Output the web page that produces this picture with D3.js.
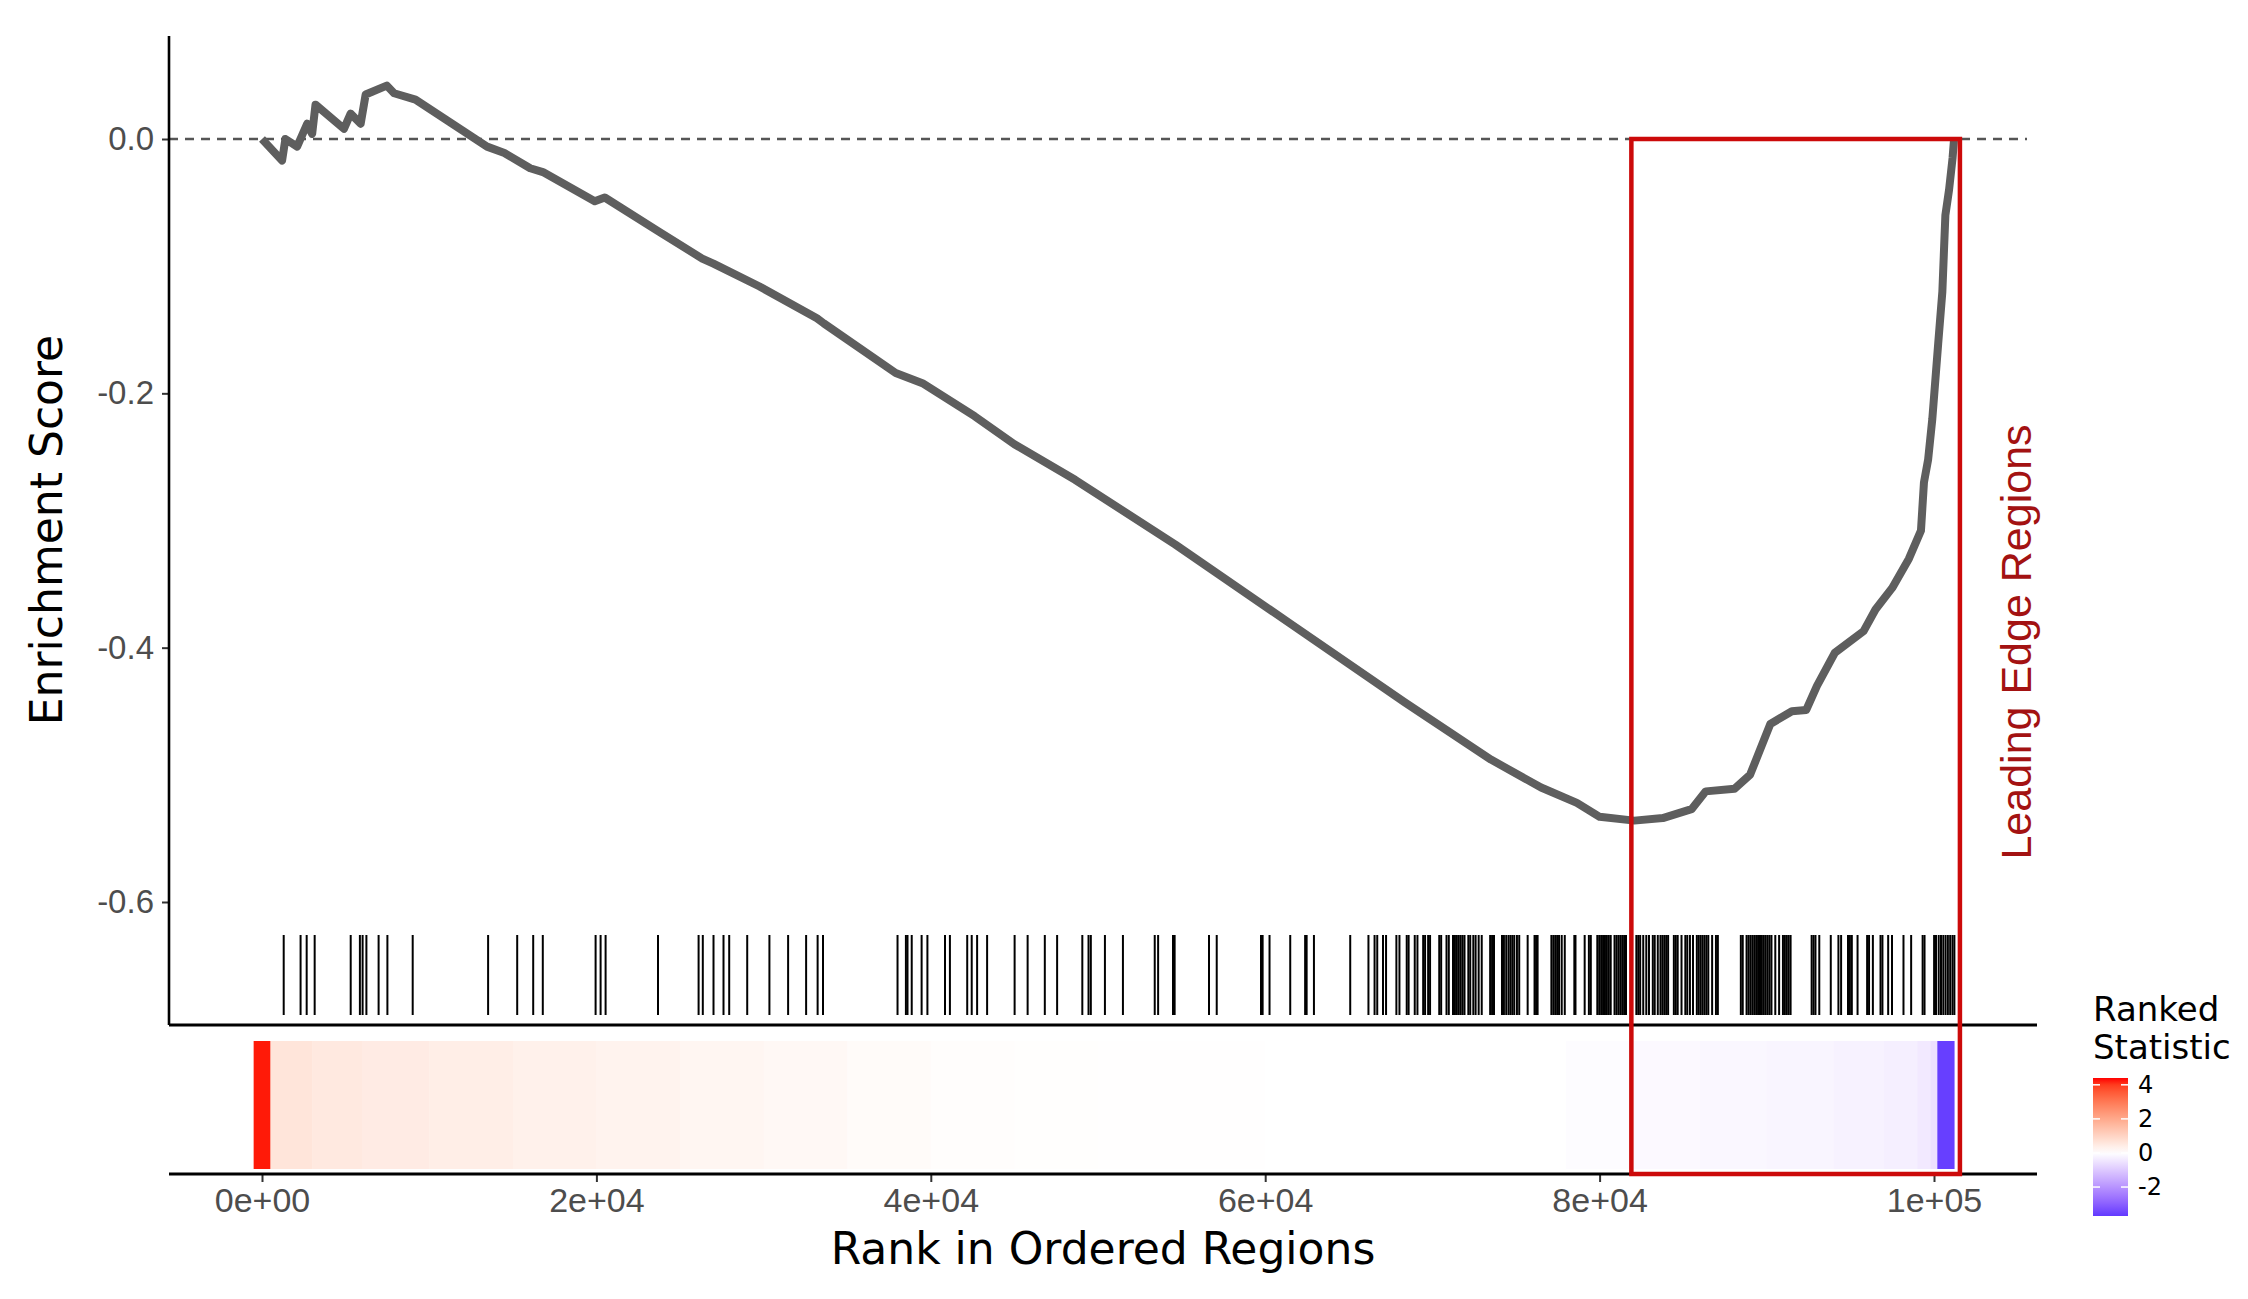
<!DOCTYPE html>
<html lang="en">
<head>
<meta charset="UTF-8">
<script src="https://d3js.org/d3.v7.min.js"></script>
<style>
  body { margin: 0; background: #fff; font-family: "DejaVu Sans", sans-serif; }
  .tick text { fill: #4d4d4d; }
</style>
</head>
<body>
<script>
// running enrichment score (rank, ES)
const esRank = [0, 1200, 1400, 2100, 2700, 3000, 3200, 4900, 5300, 5900, 6200, 7460, 7900, 9180, 13460, 14500, 16040, 16800, 19900, 20500, 23760, 26330, 27000, 29760, 33190, 33600, 37900, 39500, 42620, 45000, 48630, 54630, 61490, 68350, 73500, 76500, 78640, 80000, 82070, 83780, 85500, 86350, 88070, 89000, 90210, 91500, 92360, 93000, 94070, 95790, 96500, 97500, 98500, 99220, 99400, 99650, 99900, 100250, 100500, 100680, 100900, 101110, 101200];
const esVal = [0, -0.017, 0, -0.006, 0.012, 0.004, 0.027, 0.008, 0.02, 0.012, 0.035, 0.042, 0.036, 0.031, -0.006, -0.011, -0.023, -0.026, -0.049, -0.046, -0.073, -0.094, -0.098, -0.116, -0.141, -0.145, -0.184, -0.192, -0.218, -0.24, -0.268, -0.319, -0.381, -0.443, -0.488, -0.51, -0.522, -0.533, -0.536, -0.534, -0.527, -0.513, -0.511, -0.5, -0.46, -0.45, -0.449, -0.43, -0.404, -0.387, -0.37, -0.353, -0.33, -0.308, -0.27, -0.252, -0.22, -0.161, -0.12, -0.06, -0.04, -0.015, 0];

// hit positions (rank)
const hits = [1298, 2307, 2672, 3150, 5305, 5855, 6017, 6244, 6974, 7500, 9013, 13523, 15263, 16220, 16794, 19952, 20251, 20550, 23684, 26112, 26364, 27004, 27602, 27943, 29020, 30348, 31466, 32543, 33231, 33554,
  38010, 38511, 38607, 38859, 39451, 39797, 40850, 41143, 42178, 42447, 42770, 43368, 45013, 45791, 46819, 47555, 49062, 49433, 49571, 50414, 51491, 53393, 53596, 54487, 54583, 56640, 57101, 59750, 59846, 60259, 61497, 62388, 62478, 62915, 65085,
  66175, 66541, 66701, 67044, 67228, 67846, 68029, 68464, 68578, 68944, 69105, 69448, 69562, 69745, 69860, 70409, 70524, 70844, 70981, 71233, 71348, 71462, 71577, 71691, 71806, 71920, 72149, 72263, 72447, 72584, 72767, 72950, 73454, 73568, 73683,
  74163, 74278, 74415, 74552, 74667, 74781, 74896, 75056, 75193, 75697, 76109, 76200, 76292, 77116, 77231, 77345, 77460, 77574, 77734, 77917, 78489, 78558, 79107, 79359, 79474, 79863, 79977, 80092, 80206, 80321, 80435, 80550, 80664,
  80893, 81007, 81122, 81236, 81351, 81465, 81580, 82198, 82312, 82427, 82610, 82793, 82953, 83182, 83296, 83480, 83640, 83754, 83869, 83983, 84098, 84441, 84556, 84670, 84899, 85128, 85243, 85403, 85586, 85815, 85929, 86044, 86158,
  86272, 86387, 86501, 86730, 86959, 87073, 88447, 88561, 88790, 88905, 89019, 89134, 89248, 89363, 89477, 89592, 89706, 89821, 89935, 90050, 90164, 90279, 90508, 90737, 90966, 91080, 91195, 91308, 91423, 92682, 92796, 92911, 93139,
  93826, 94284, 94444, 94856, 94970, 95085, 95428, 96000, 96115, 96344, 96801, 96916, 97259, 97488, 98175, 98633, 99320, 99434, 100006, 100121, 100281, 100418, 100556, 100693, 100830, 100967, 101105, 101219];

// ranked statistic bins (start rank of each bin, value); last rank closes the final bin
const statRank = [-500, 500, 3000, 6000, 10000, 15000, 20000, 25000, 30000, 35000, 40000, 45000, 50000, 60000, 70000, 78000, 82000, 86000, 90000, 94000, 97000, 99000, 99800, 100200, 101200];
const statVal = [4.3, 0.62, 0.52, 0.46, 0.4, 0.34, 0.28, 0.22, 0.16, 0.1, 0.05, 0.03, 0.015, 0.005, 0, -0.05, -0.1, -0.14, -0.18, -0.24, -0.3, -0.4, -0.55, -3.6];

const xTicks = [0, 20000, 40000, 60000, 80000, 100000];
const xTickLabels = ["0e+00", "2e+04", "4e+04", "6e+04", "8e+04", "1e+05"];
const yTicks = [0, -0.2, -0.4, -0.6];
const legendTicks = [4, 2, 0, -2];
const leadingEdge = [81900, 101550];

const W = 2248, H = 1299;
const svg = d3.select('body').append('svg').attr('width', W).attr('height', H);

const x = d3.scaleLinear().domain([0, 100000]).range([262, 1934]);
const y = d3.scaleLinear().domain([0, -0.6]).range([139, 902]);
const left = 169, right = 2037, topY = 36, panelBottom = 1025, heatTop = 1041, heatBottom = 1169, axisY = 1174;

const maxAbs = 4.4;
const color = v => v >= 0 ? d3.interpolateLab('#ffffff', '#ff0000')(Math.min(v / maxAbs, 1))
                          : d3.interpolateLab('#ffffff', '#0000ff')(Math.min(-v / maxAbs, 1));

// zero line
svg.append('line').attr('x1', left).attr('x2', right - 10).attr('y1', y(0)).attr('y2', y(0))
  .attr('stroke', '#555').attr('stroke-width', 2.4).attr('stroke-dasharray', '9,7');

// ES curve
const pts = esRank.map((r, i) => [r, esVal[i]]);
svg.append('path').datum(pts)
  .attr('d', d3.line().x(d => x(d[0])).y(d => y(d[1])))
  .attr('fill', 'none').attr('stroke', '#5e5e5e').attr('stroke-width', 8).attr('stroke-linejoin', 'round');

// rug
svg.append('g').selectAll('line').data(hits).join('line')
  .attr('x1', d => x(d)).attr('x2', d => x(d)).attr('y1', 935).attr('y2', 1015)
  .attr('stroke', '#000').attr('stroke-width', 2);

// heat bar
svg.append('g').selectAll('rect').data(statVal).join('rect')
  .attr('x', (d, i) => x(statRank[i]))
  .attr('width', (d, i) => x(statRank[i + 1]) - x(statRank[i]) + 0.5)
  .attr('y', heatTop).attr('height', heatBottom - heatTop)
  .attr('fill', d => color(d));

// axes
const yAxis = d3.axisLeft(y).tickValues(yTicks).tickSize(7).tickPadding(8);
const gy = svg.append('g').attr('transform', `translate(${left},0)`).call(yAxis);
gy.select('.domain').remove();
gy.selectAll('.tick line').attr('stroke', '#333').attr('stroke-width', 2);
gy.selectAll('.tick text').attr('font-size', 33).text(d => d === 0 ? '0.0' : d3.format('.1f')(d).replace('−', '-'));
svg.append('line').attr('x1', left).attr('x2', left).attr('y1', topY).attr('y2', panelBottom).attr('stroke', '#000').attr('stroke-width', 2.6);
svg.append('line').attr('x1', left).attr('x2', right).attr('y1', panelBottom).attr('y2', panelBottom).attr('stroke', '#000').attr('stroke-width', 3);

const xAxis = d3.axisBottom(x).tickValues(xTicks).tickFormat((d, i) => xTickLabels[i]).tickSize(8).tickPadding(6);
const gx = svg.append('g').attr('transform', `translate(0,${axisY})`).call(xAxis);
gx.select('.domain').remove();
gx.selectAll('.tick line').attr('stroke', '#333').attr('stroke-width', 2);
gx.selectAll('.tick text').attr('font-size', 34);
svg.append('line').attr('x1', left).attr('x2', right).attr('y1', axisY).attr('y2', axisY).attr('stroke', '#000').attr('stroke-width', 3);

// titles
svg.append('text').attr('x', (left + right) / 2).attr('y', 1264).attr('text-anchor', 'middle')
  .attr('font-size', 44).text('Rank in Ordered Regions');
svg.append('text').attr('transform', `translate(62,${530}) rotate(-90)`).attr('text-anchor', 'middle')
  .attr('font-size', 44).text('Enrichment Score');

// leading edge box
svg.append('rect').attr('x', x(leadingEdge[0])).attr('y', y(0))
  .attr('width', x(leadingEdge[1]) - x(leadingEdge[0])).attr('height', axisY - y(0))
  .attr('fill', 'none').attr('stroke', '#cc0a0a').attr('stroke-width', 4.5);
svg.append('text').attr('transform', `translate(2031,${642}) rotate(-90)`).attr('text-anchor', 'middle')
  .attr('font-family', '"Liberation Sans", Arial, sans-serif').attr('font-size', 43).attr('fill', '#a31212')
  .text('Leading Edge Regions');

// legend
const lg = svg.append('g');
lg.append('text').attr('x', 2093).attr('y', 1021).attr('font-size', 34).text('Ranked');
lg.append('text').attr('x', 2093).attr('y', 1059).attr('font-size', 34).text('Statistic');
const ly = d3.scaleLinear().domain([4.4, -3.7]).range([1078, 1216]);
const grad = svg.append('defs').append('linearGradient').attr('id', 'lgrad').attr('x1', 0).attr('x2', 0).attr('y1', 0).attr('y2', 1);
d3.range(0, 21).forEach(i => {
  const v = 4.4 - i * (8.1 / 20);
  grad.append('stop').attr('offset', i / 20).attr('stop-color', color(v));
});
lg.append('rect').attr('x', 2093).attr('y', 1078).attr('width', 35).attr('height', 138).attr('fill', 'url(#lgrad)');
legendTicks.forEach(t => {
  lg.append('line').attr('x1', 2093).attr('x2', 2100).attr('y1', ly(t)).attr('y2', ly(t)).attr('stroke', '#fff').attr('stroke-width', 1.5);
  lg.append('line').attr('x1', 2121).attr('x2', 2128).attr('y1', ly(t)).attr('y2', ly(t)).attr('stroke', '#fff').attr('stroke-width', 1.5);
  lg.append('text').attr('x', 2138).attr('y', ly(t)).attr('dy', '0.35em').attr('font-size', 24).text(t);
});
</script>
</body>
</html>
